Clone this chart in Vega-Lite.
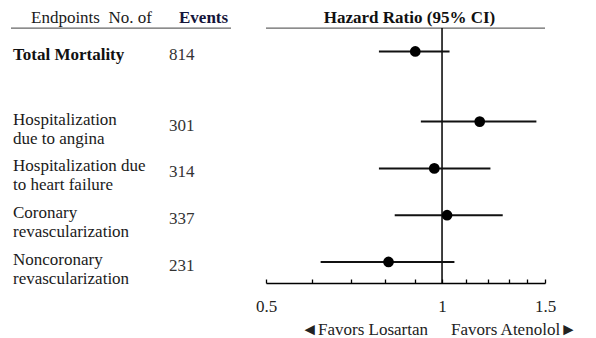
{
  "$schema": "https://vega.github.io/schema/vega-lite/v6.json",
  "padding": {"left": 10, "top": 0, "right": 0, "bottom": 0},
  "bounds": "flush",
  "spacing": 35,
  "config": {
    "view": {"stroke": null},
    "font": "Liberation Serif"
  },
  "datasets": {
    "endpoints": [
      {"endpoint": "Total Mortality", "events": 814, "hr": 0.90, "lo": 0.78, "hi": 1.03, "row": 0, "primary": true},
      {"endpoint": "Hospitalization\ndue to angina", "events": 301, "hr": 1.16, "lo": 0.92, "hi": 1.45, "row": 1.5, "primary": false},
      {"endpoint": "Hospitalization due\nto heart failure", "events": 314, "hr": 0.97, "lo": 0.78, "hi": 1.21, "row": 2.5, "primary": false},
      {"endpoint": "Coronary\nrevascularization", "events": 337, "hr": 1.02, "lo": 0.83, "hi": 1.27, "row": 3.5, "primary": false},
      {"endpoint": "Noncoronary\nrevascularization", "events": 231, "hr": 0.81, "lo": 0.62, "hi": 1.05, "row": 4.5, "primary": false}
    ]
  },
  "hconcat": [
    {
      "width": 220,
      "height": 283,
      "layer": [
        {
          "data": {"values": [{"line": "header"}]},
          "mark": {"type": "rule", "color": "#666", "strokeWidth": 1.3},
          "encoding": {
            "y": {"datum": -0.5, "type": "quantitative", "scale": {"domain": [-1.1, 4.95], "reverse": true, "nice": false, "zero": false}, "axis": null}
          }
        },
        {
          "data": {"values": [{"heading": "Endpoints\u00a0\u00a0No. of"}]},
          "mark": {"type": "text", "font": "Liberation Serif", "fontSize": 17, "color": "#1a1a1a", "align": "left", "baseline": "alphabetic", "dx": 18},
          "encoding": {
            "x": {"datum": "Endpoint", "type": "nominal", "scale": {"type": "point", "domain": ["Endpoint", "Events"], "padding": 0.20513, "align": 0.03125}, "axis": null},
            "y": {"datum": -0.6, "type": "quantitative"},
            "text": {"field": "heading"}
          }
        },
        {
          "data": {"values": [{"heading": "Events"}]},
          "mark": {"type": "text", "font": "Liberation Serif", "fontSize": 17, "align": "left", "baseline": "alphabetic", "dx": 10, "fontWeight": "bold", "color": "#15153a"},
          "encoding": {
            "x": {"datum": "Events", "type": "nominal"},
            "y": {"datum": -0.6, "type": "quantitative"},
            "text": {"field": "heading"}
          }
        },
        {
          "data": {"name": "endpoints"},
          "transform": [{"filter": "datum.primary"}],
          "mark": {"type": "text", "font": "Liberation Serif", "fontSize": 17, "align": "left", "baseline": "middle", "dy": 3.5, "fontWeight": "bold", "color": "#111"},
          "encoding": {
            "x": {"datum": "Endpoint", "type": "nominal"},
            "y": {"field": "row", "type": "quantitative"},
            "text": {"field": "endpoint"}
          }
        },
        {
          "data": {"name": "endpoints"},
          "transform": [{"filter": "!datum.primary"}],
          "mark": {"type": "text", "font": "Liberation Serif", "fontSize": 17, "color": "#1a1a1a", "align": "left", "baseline": "middle", "dy": -2, "lineBreak": "\n", "lineHeight": 19},
          "encoding": {
            "x": {"datum": "Endpoint", "type": "nominal"},
            "y": {"field": "row", "type": "quantitative"},
            "text": {"field": "endpoint"}
          }
        },
        {
          "data": {"name": "endpoints"},
          "mark": {"type": "text", "font": "Liberation Serif", "fontSize": 17, "align": "left", "baseline": "middle", "dy": 4, "color": "#333"},
          "encoding": {
            "x": {"datum": "Events", "type": "nominal"},
            "y": {"field": "row", "type": "quantitative"},
            "text": {"field": "events"}
          }
        }
      ]
    },
    {
      "width": 279,
      "height": 283,
      "layer": [
        {
          "data": {"values": [{"line": "header"}]},
          "mark": {"type": "rule", "color": "#666", "strokeWidth": 1.3},
          "encoding": {
            "y": {"datum": -0.5, "type": "quantitative", "scale": {"domain": [-1.1, 4.95], "reverse": true, "nice": false, "zero": false}, "axis": null}
          }
        },
        {
          "data": {"values": [{"heading": "Hazard Ratio (95% CI)"}]},
          "mark": {"type": "text", "font": "Liberation Serif", "fontSize": 17, "baseline": "alphabetic", "fontWeight": "bold", "dx": 4, "color": "#111"},
          "encoding": {
            "y": {"datum": -0.6, "type": "quantitative"},
            "text": {"field": "heading"}
          }
        },
        {
          "data": {"values": [{"line": "no effect"}]},
          "mark": {"type": "rule", "color": "#000", "strokeWidth": 1.5},
          "encoding": {
            "x": {"datum": 1, "type": "quantitative"},
            "y": {"datum": -0.5, "type": "quantitative"},
            "y2": {"datum": 4.95}
          }
        },
        {
          "data": {"name": "endpoints"},
          "mark": {"type": "rule", "color": "#111", "strokeWidth": 2},
          "encoding": {
            "x": {
              "field": "lo",
              "type": "quantitative",
              "scale": {"type": "log", "domain": [0.5, 1.5], "nice": false},
              "axis": {
                "orient": "bottom",
                "values": [0.5, 0.6, 0.7, 0.8, 0.9, 1, 1.1, 1.2, 1.3, 1.4, 1.5],
                "format": "~g",
                "labelExpr": "datum.value == 0.5 || datum.value == 1 || datum.value == 1.5 ? datum.label : ''",
                "title": null,
                "grid": false,
                "domainColor": "#000",
                "domainWidth": 1.5,
                "tickColor": "#000",
                "tickWidth": 1.3,
                "tickSize": -4,
                "labelFont": "Liberation Serif",
                "labelFontSize": 17,
                "labelColor": "#222",
                "labelPadding": 19,
                "labelFlush": false,
                "labelOverlap": false,
                "labelBound": false
              }
            },
            "x2": {"field": "hi"},
            "y": {"field": "row", "type": "quantitative"}
          }
        },
        {
          "data": {"name": "endpoints"},
          "mark": {"type": "point", "filled": true, "size": 115, "color": "#000", "opacity": 1},
          "encoding": {
            "x": {"field": "hr", "type": "quantitative"},
            "y": {"field": "row", "type": "quantitative"}
          }
        },
        {
          "data": {"values": [{"side": "◄Favors Losartan"}]},
          "mark": {"type": "text", "font": "Liberation Serif", "fontSize": 17, "align": "right", "baseline": "alphabetic", "dx": -14, "color": "#222"},
          "encoding": {
            "x": {"datum": 1, "type": "quantitative"},
            "y": {"datum": 6.07, "type": "quantitative"},
            "text": {"field": "side"}
          }
        },
        {
          "data": {"values": [{"side": "Favors Atenolol►"}]},
          "mark": {"type": "text", "font": "Liberation Serif", "fontSize": 17, "align": "left", "baseline": "alphabetic", "dx": 9, "color": "#222"},
          "encoding": {
            "x": {"datum": 1, "type": "quantitative"},
            "y": {"datum": 6.07, "type": "quantitative"},
            "text": {"field": "side"}
          }
        }
      ]
    }
  ]
}
